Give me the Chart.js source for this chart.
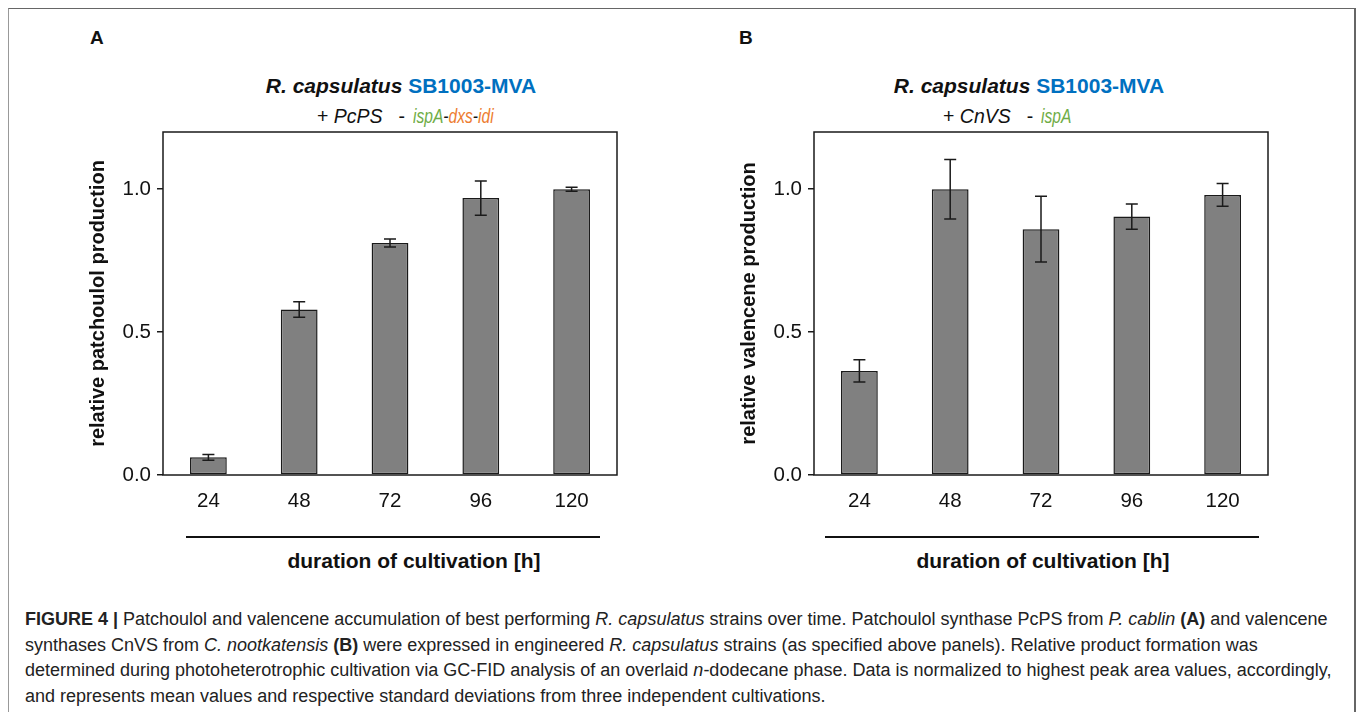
<!DOCTYPE html>
<html>
<head>
<meta charset="utf-8">
<script src="https://cdn.jsdelivr.net/npm/chart.js@4.4.0/dist/chart.umd.min.js"></script>
<style>
  html, body { margin: 0; padding: 0; background: #fff; }
  body { width: 1358px; height: 712px; position: relative; overflow: hidden;
         font-family: "Liberation Sans", Arial, sans-serif; color: #111; }
  .frame { position: absolute; left: 8px; top: 8px; width: 1345px; height: 720px;
           border-top: 1.5px solid #666; border-left: 1px solid #999; border-right: 2px solid #666; }
  .abs { position: absolute; white-space: nowrap; }
  .letter { font-weight: bold; font-size: 19px; }
  .title { font-weight: bold; font-size: 21px; text-align: center; width: 400px; line-height: 24px; }
  .title i { font-style: italic; }
  .blue { color: #0070c0; }
  .sub { font-size: 19.5px; line-height: 24px; }
  .dash { margin-left: 16px; margin-right: 8px; }
  .nar { display: inline-block; transform: scaleX(0.8); transform-origin: left center; font-style: italic; }
  .green { color: #70ad47; }
  .orange { color: #ed7d31; }
  .rule { position: absolute; height: 0; border-top: 2px solid #111; }
  .xtitle { font-weight: bold; font-size: 21px; text-align: center; width: 400px; line-height: 24px; }
  .box { position: absolute; width: 565px; height: 400px; }
  .cap { position: absolute; left: 25px; top: 607px; font-size: 18px; line-height: 25.7px; color: #222;
         font-family: "Liberation Sans", Arial, sans-serif; white-space: nowrap; }
</style>
</head>
<body>
<div class="frame"></div>

<div class="abs letter" style="left:90px; top:27px;">A</div>
<div class="abs letter" style="left:739px; top:27px;">B</div>

<div class="abs title" style="left:201px; top:74px;"><i>R. capsulatus</i> <span class="blue">SB1003-MVA</span></div>
<div class="abs sub" style="left:317px; top:104px;">+ <i>PcPS</i><span class="dash">-</span><span class="nar"><span class="green">ispA</span>-<span class="orange">dxs</span>-<span class="orange">idi</span></span></div>

<div class="abs title" style="left:829px; top:74px;"><i>R. capsulatus</i> <span class="blue">SB1003-MVA</span></div>
<div class="abs sub" style="left:943px; top:104px;">+ <i>CnVS</i><span class="dash">-</span><span class="nar"><span class="green">ispA</span></span></div>

<div class="box" style="left:60px; top:120px;"><canvas id="chartA"></canvas></div>
<div class="box" style="left:711px; top:120px;"><canvas id="chartB"></canvas></div>

<div class="rule" style="left:186px; top:536px; width:414px;"></div>
<div class="rule" style="left:825px; top:536px; width:434px;"></div>
<div class="abs xtitle" style="left:214px; top:549px;">duration of cultivation [h]</div>
<div class="abs xtitle" style="left:843px; top:549px;">duration of cultivation [h]</div>

<div class="cap">
<b>FIGURE 4 |</b> Patchoulol and valencene accumulation of best performing <i>R. capsulatus</i> strains over time. Patchoulol synthase PcPS from <i>P. cablin</i> <b>(A)</b> and valencene<br>
synthases CnVS from <i>C. nootkatensis</i> <b>(B)</b> were expressed in engineered <i>R. capsulatus</i> strains (as specified above panels). Relative product formation was<br>
determined during photoheterotrophic cultivation via GC-FID analysis of an overlaid <i>n</i>-dodecane phase. Data is normalized to highest peak area values, accordingly,<br>
and represents mean values and respective standard deviations from three independent cultivations.
</div>

<script>
// cultivation time points [h]
const HOURS = ["24", "48", "72", "96", "120"];
// panel A: relative patchoulol production (mean, sd)
const PATCHOULOL = [0.062, 0.579, 0.812, 0.969, 1.0];
const PATCHOULOL_SD = [0.010, 0.027, 0.014, 0.060, 0.007];
// panel B: relative valencene production (mean, sd)
const VALENCENE = [0.364, 1.0, 0.860, 0.904, 0.980];
const VALENCENE_SD = [0.039, 0.104, 0.115, 0.044, 0.040];
// y axis ticks
const Y_TICKS = [0, 0.5, 1.0];
const Y_MAX = 1.2;

const INK = "#1a1a1a";

// frame around the plot area (top + right too)
const framePlugin = {
  id: "frame",
  afterDraw(chart) {
    const { ctx, chartArea: a } = chart;
    ctx.save();
    ctx.strokeStyle = INK;
    ctx.lineWidth = 1.5;
    ctx.strokeRect(a.left, a.top, a.right - a.left, a.bottom - a.top);
    ctx.restore();
  },
};

// standard deviation whiskers
const errorBarPlugin = {
  id: "errorBars",
  afterDatasetsDraw(chart) {
    const { ctx } = chart;
    const y = chart.scales.y;
    chart.data.datasets.forEach((ds, di) => {
      const meta = chart.getDatasetMeta(di);
      meta.data.forEach((bar, i) => {
        const v = ds.data[i], e = ds.sd[i];
        const top = y.getPixelForValue(v + e);
        const bot = y.getPixelForValue(v - e);
        ctx.save();
        ctx.strokeStyle = INK;
        ctx.lineWidth = 1.5;
        ctx.beginPath();
        ctx.moveTo(bar.x, top); ctx.lineTo(bar.x, bot);
        ctx.moveTo(bar.x - 6, top); ctx.lineTo(bar.x + 6, top);
        ctx.moveTo(bar.x - 6, bot); ctx.lineTo(bar.x + 6, bot);
        ctx.stroke();
        ctx.restore();
      });
    });
  },
};

function makeChart(id, values, sd, yTitle) {
  return new Chart(document.getElementById(id), {
    type: "bar",
    data: {
      labels: HOURS,
      datasets: [{
        data: values,
        sd: sd,
        backgroundColor: "#808080",
        borderColor: INK,
        borderWidth: 1.5,
        borderSkipped: false,
        categoryPercentage: 1.0,
        barPercentage: 0.405,
      }],
    },
    options: {
      responsive: true,
      maintainAspectRatio: false,
      animation: false,
      events: [],
      layout: { padding: { top: 12, right: 8, left: 0, bottom: 0 } },
      plugins: { legend: { display: false }, tooltip: { enabled: false } },
      scales: {
        x: {
          grid: { display: false, drawTicks: false },
          border: { display: false },
          ticks: { color: "#111", font: { family: "Liberation Sans", size: 20.5 }, padding: 14 },
          afterFit(s) { s.height = 45; s.paddingLeft = 0; s.paddingRight = 0; },
        },
        y: {
          min: 0,
          max: Y_MAX,
          afterBuildTicks(s) { s.ticks = Y_TICKS.map(v => ({ value: v })); },
          grid: { drawOnChartArea: false, drawTicks: true, tickLength: 6, color: INK, lineWidth: 1.5 },
          border: { display: false },
          ticks: {
            color: "#111",
            font: { family: "Liberation Sans", size: 20.5 },
            padding: 6,
            callback: v => Number(v).toFixed(1),
          },
          title: {
            display: true,
            text: yTitle,
            color: "#111",
            font: { family: "Liberation Sans", size: 20, weight: "bold" },
            padding: { top: 26, bottom: 0 },
          },
          afterFit(s) { s.width = 103; s.paddingTop = 0; s.paddingBottom = 0; },
        },
      },
    },
    plugins: [framePlugin, errorBarPlugin],
  });
}

makeChart("chartA", PATCHOULOL, PATCHOULOL_SD, "relative patchoulol production");
makeChart("chartB", VALENCENE, VALENCENE_SD, "relative valencene production");
</script>
</body>
</html>
